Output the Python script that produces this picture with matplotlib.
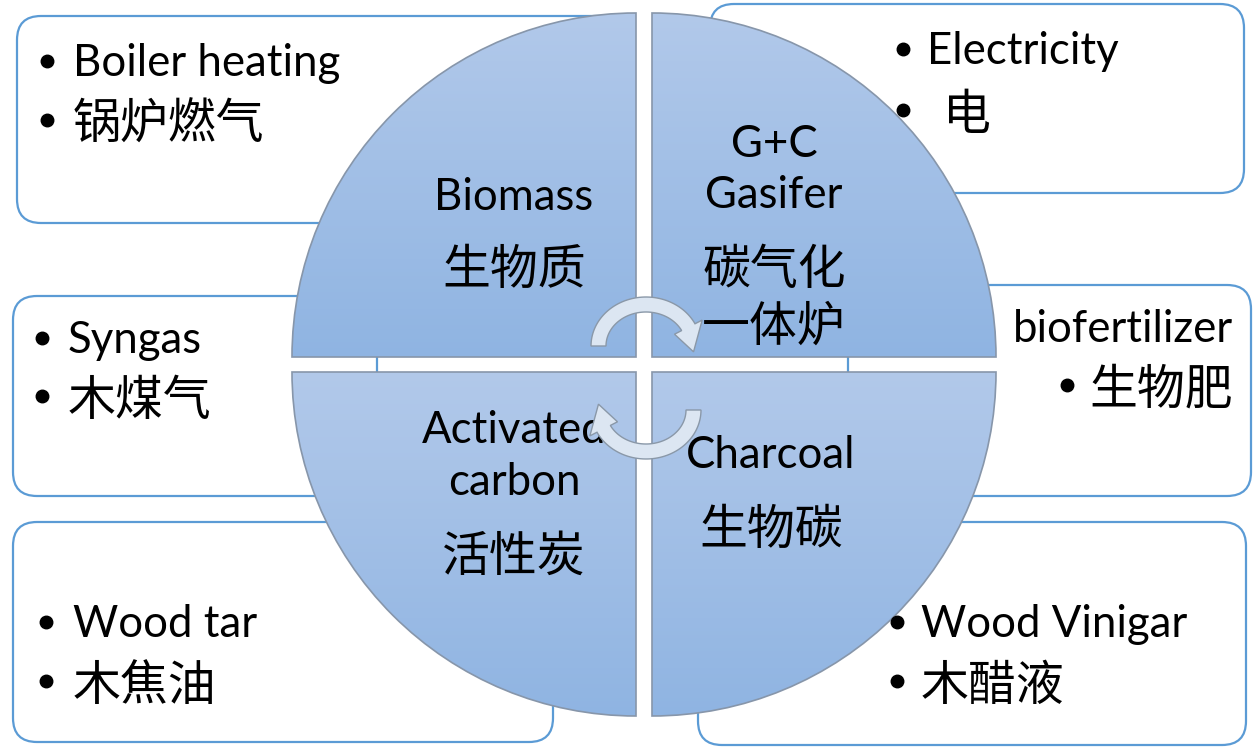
import numpy as np
import matplotlib
matplotlib.use("Agg")
import matplotlib.pyplot as plt
from matplotlib.patches import FancyBboxPatch, Wedge, Polygon
from matplotlib.colors import LinearSegmentedColormap

# ===== Content =====
# quadrant labels: (text, baseline y)
quad_names = ["TL", "TR", "BL", "BR"]
quad_lines = {
    "TL": [("Biomass", 210), ("生物质", 284)],
    "TR": [("G+C", 157), ("Gasifer", 208), ("碳气化", 284), ("一体炉", 341)],
    "BL": [("Activated", 443), ("carbon", 495), ("活性炭", 571)],
    "BR": [("Charcoal", 468), ("生物碳", 544)],
}
quad_text_x = {"TL": 514, "TR": 774, "BL": 514, "BR": 771}

# outer boxes: (x0, y0, x1, y1)
boxes = [
    (17, 16, 625, 223),
    (710, 4, 1244, 193),
    (13, 296, 377, 496),
    (848, 285, 1251, 496),
    (13, 522, 553, 742),
    (698, 522, 1246, 745),
]
# bullet items: (text, text x, baseline y, bullet x, align)
items = [
    ("Boiler heating", 73, 76, 47, "left"),
    ("锅炉燃气", 73, 139, 47, "left"),
    ("Electricity", 927, 64, 903, "left"),
    ("电", 943, 129, 903, "left"),
    ("Syngas", 68, 353, 42, "left"),
    ("木煤气", 68, 415, 42, "left"),
    ("biofertilizer", 1233, 342, None, "right"),
    ("生物肥", 1233, 404, 1067, "right"),
    ("Wood tar", 73, 637, 46, "left"),
    ("木焦油", 73, 700, 46, "left"),
    ("Wood Vinigar", 921, 637, 897, "left"),
    ("木醋液", 921, 700, 897, "left"),
]

W, H = 1260, 747
R = 344
centers = {"TL": (636, 357), "TR": (652, 357), "BL": (636, 372), "BR": (652, 372)}
angles = {"TL": (180, 270), "TR": (270, 360), "BL": (90, 180), "BR": (0, 90)}

LAT = "Lato"
CJK = "Noto Sans CJK SC"
FS_EN = 31.5
FS_CN = 34.5


def has_cjk(s):
    return any(ord(c) > 0x2E80 for c in s)


fig = plt.figure(figsize=(W / 100, H / 100), dpi=100)
ax = fig.add_axes([0, 0, 1, 1])
ax.set_xlim(0, W)
ax.set_ylim(H, 0)
ax.axis("off")

# ===== Boxes (behind circle) =====
for x0, y0, x1, y1 in boxes:
    ax.add_patch(FancyBboxPatch((x0, y0), x1 - x0, y1 - y0,
                                boxstyle="round,pad=0,rounding_size=24",
                                fc="white", ec="#5B9BD5", lw=1.6, zorder=1))

# ===== Quadrants with gradient =====
cmap = LinearSegmentedColormap.from_list("q", ["#B2C9EA", "#8FB4E2"])
grad = np.linspace(0, 1, 256).reshape(-1, 1)
for q in quad_names:
    cx, cy = centers[q]
    t1, t2 = angles[q]
    wedge = Wedge((cx, cy), R, t1, t2, fc="none", ec="#8796AA", lw=1.2, zorder=4)
    ax.add_patch(wedge)
    ys = (cy - R, cy) if q in ("TL", "TR") else (cy, cy + R)
    im = ax.imshow(grad, cmap=cmap, aspect="auto", origin="upper",
                   extent=(cx - R - 2, cx + R + 2, ys[1] + 2, ys[0] - 2), zorder=3)
    im.set_clip_path(wedge)
ax.set_xlim(0, W)
ax.set_ylim(H, 0)

# ===== Texts =====
for q in quad_names:
    for s, yb in quad_lines[q]:
        cn = has_cjk(s)
        ax.text(quad_text_x[q], yb, s, ha="center", va="baseline",
                fontsize=FS_CN if cn else FS_EN, family=CJK if cn else LAT, zorder=6)

for s, x, yb, bx, align in items:
    cn = has_cjk(s)
    ax.text(x, yb, s, ha=align, va="baseline", fontsize=FS_CN if cn else FS_EN,
            family=CJK if cn else LAT, zorder=6)
    if bx is not None:
        by = yb - 19 if cn else yb - 15
        ax.plot(bx, by, "o", ms=9, color="black", zorder=6)


# ===== Cycle arrows =====
def arrow_poly(cx, cy, flip):
    a_out, b_out, a_in, b_in = 55, 49, 40, 34
    pts_out, pts_in = [], []
    for phi in np.linspace(180, 27, 60):
        p = np.radians(phi)
        pts_out.append((a_out * np.cos(p), -b_out * np.sin(p)))
        pts_in.append((a_in * np.cos(p), -b_in * np.sin(p)))
    p = np.radians(27)
    wing_out = ((a_out + 8) * np.cos(p), -(b_out + 8) * np.sin(p))
    wing_in = ((a_in - 8) * np.cos(p), -(b_in - 8) * np.sin(p))
    pt = np.radians(-8)
    tip = (48 * np.cos(pt), -42 * np.sin(pt))
    poly = np.array(pts_out + [wing_out, tip, wing_in] + pts_in[::-1])
    if flip:
        poly = -poly
    poly[:, 0] += cx
    poly[:, 1] += cy
    return poly


for cx, cy, flip in [(646, 346, False), (646, 410, True)]:
    ax.add_patch(Polygon(arrow_poly(cx, cy, flip), closed=True, fc="#DCE6F2",
                         ec="#8A98A8", lw=1.0, zorder=7))

fig.savefig("out.png", dpi=100)
